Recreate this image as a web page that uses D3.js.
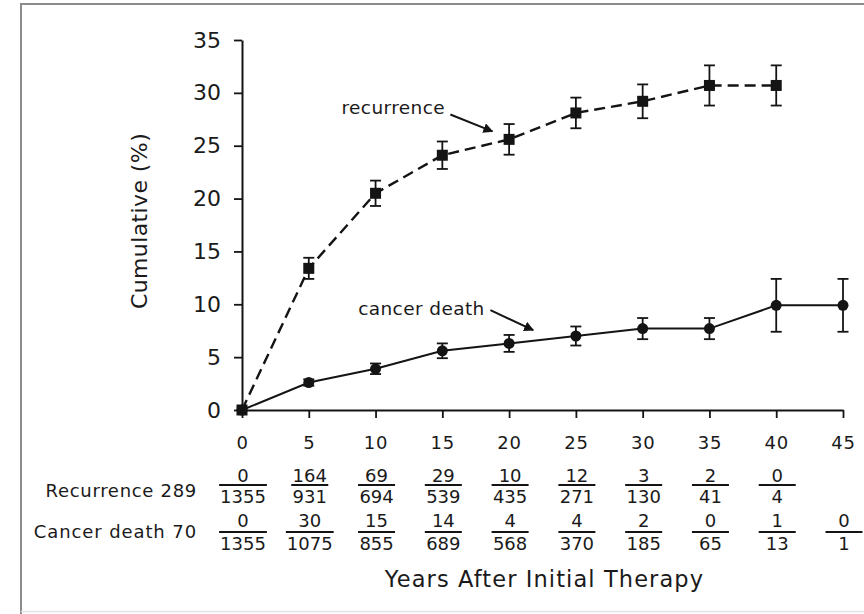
<!DOCTYPE html>
<html>
<head>
<meta charset="utf-8">
<script src="https://cdn.jsdelivr.net/npm/d3@7"></script>
<style>
  html, body { margin: 0; padding: 0; background: #fff; }
  svg { display: block; }
  text { font-family: "DejaVu Sans", sans-serif; fill: #1a1a1a; }
</style>
</head>
<body>
<script>
// Follow-up years
const years = [0, 5, 10, 15, 20, 25, 30, 35, 40, 45];

// Cumulative recurrence (%) with standard error, years 0–40
const recurrence    = [0, 13.4, 20.5, 24.1, 25.6, 28.1, 29.2, 30.7, 30.7];
const recurrenceErr = [0, 1.0, 1.2, 1.3, 1.45, 1.45, 1.6, 1.9, 1.9];

// Cumulative cancer death (%) with standard error, years 0–45
const cancerDeath    = [0, 2.6, 3.9, 5.6, 6.3, 7.0, 7.7, 7.7, 9.9, 9.9];
const cancerDeathErr = [0, 0.3, 0.5, 0.7, 0.8, 0.9, 1.0, 1.0, 2.5, 2.5];

// Events / patients at risk per interval
const recEvents   = [0, 164, 69, 29, 10, 12, 3, 2, 0];
const recAtRisk   = [1355, 931, 694, 539, 435, 271, 130, 41, 4];
const deathEvents = [0, 30, 15, 14, 4, 4, 2, 0, 1, 0];
const deathAtRisk = [1355, 1075, 855, 689, 568, 370, 185, 65, 13, 1];

// Axis ticks
const xTicks = [0, 5, 10, 15, 20, 25, 30, 35, 40, 45];
const yTicks = [0, 5, 10, 15, 20, 25, 30, 35];

const W = 864, H = 614;
const ink = "#141414";

const svg = d3.select("body").append("svg")
  .attr("width", W).attr("height", H);

svg.append("rect").attr("width", W).attr("height", H).attr("fill", "#fff");

// Outer frame (top and left edges)
svg.append("path")
  .attr("d", "M21,614 V4 H864")
  .attr("fill", "none").attr("stroke", "#8c8c8c").attr("stroke-width", 2);
svg.append("path")
  .attr("d", "M21,611.5 H864")
  .attr("fill", "none").attr("stroke", "#e4e4e4").attr("stroke-width", 1.5);

const x = d3.scaleLinear().domain([0, 45]).range([242, 843]);
const y = d3.scaleLinear().domain([0, 35]).range([410, 40]);

// Axes
const yAxis = svg.append("g")
  .attr("transform", `translate(${x(0)},0)`)
  .call(d3.axisLeft(y).tickValues(yTicks).tickSize(8).tickSizeOuter(0).tickPadding(13));
yAxis.selectAll("text").attr("font-size", 22).attr("font-family", "DejaVu Sans").attr("fill", "#1a1a1a");

const xAxis = svg.append("g")
  .attr("transform", `translate(0,${y(0)})`)
  .call(d3.axisBottom(x).tickValues(xTicks).tickSize(8).tickSizeOuter(0).tickPadding(18));
xAxis.selectAll("text").attr("font-size", 18).attr("font-family", "DejaVu Sans")
  .attr("letter-spacing", 0.8).attr("fill", "#1a1a1a");

[yAxis, xAxis].forEach(g => {
  g.select(".domain").attr("stroke", ink).attr("stroke-width", 2);
  g.selectAll(".tick line").attr("stroke", ink).attr("stroke-width", 1.8);
});

// Axis titles
svg.append("text")
  .attr("transform", `translate(147,221) rotate(-90)`)
  .attr("text-anchor", "middle")
  .attr("font-size", 22)
  .attr("letter-spacing", 0.4)
  .text("Cumulative (%)");

svg.append("text")
  .attr("x", (x(0) + x(45)) / 2 + 2)
  .attr("y", 587)
  .attr("text-anchor", "middle")
  .attr("font-size", 22.5)
  .attr("letter-spacing", 1.1)
  .text("Years After Initial Therapy");

// Series data
const recData = recurrence.map((v, i) => ({ t: years[i], v, e: recurrenceErr[i] }));
const deathData = cancerDeath.map((v, i) => ({ t: years[i], v, e: cancerDeathErr[i] }));

const line = d3.line().x(d => x(d.t)).y(d => y(d.v));

function errorBars(data) {
  const g = svg.append("g").attr("stroke", ink).attr("stroke-width", 1.8);
  data.filter(d => d.e > 0).forEach(d => {
    const cx = x(d.t);
    g.append("line").attr("x1", cx).attr("x2", cx).attr("y1", y(d.v + d.e)).attr("y2", y(d.v - d.e));
    g.append("line").attr("x1", cx - 5.5).attr("x2", cx + 5.5).attr("y1", y(d.v + d.e)).attr("y2", y(d.v + d.e));
    g.append("line").attr("x1", cx - 5.5).attr("x2", cx + 5.5).attr("y1", y(d.v - d.e)).attr("y2", y(d.v - d.e));
  });
}

// Recurrence: dashed line, square markers
svg.append("path").datum(recData)
  .attr("d", line).attr("fill", "none")
  .attr("stroke", ink).attr("stroke-width", 2.4)
  .attr("stroke-dasharray", "11,6");
errorBars(recData);
svg.append("g").selectAll("rect").data(recData).join("rect")
  .attr("x", d => x(d.t) - 5.5).attr("y", d => y(d.v) - 5.5)
  .attr("width", 11).attr("height", 11).attr("fill", ink);

// Cancer death: solid line, round markers
svg.append("path").datum(deathData)
  .attr("d", line).attr("fill", "none")
  .attr("stroke", ink).attr("stroke-width", 2);
errorBars(deathData);
svg.append("g").selectAll("circle").data(deathData).join("circle")
  .attr("cx", d => x(d.t)).attr("cy", d => y(d.v)).attr("r", 5.5).attr("fill", ink);

// Series annotations with arrows
svg.append("defs").append("marker")
  .attr("id", "head").attr("viewBox", "0 0 10 10")
  .attr("refX", 9).attr("refY", 5)
  .attr("markerWidth", 5).attr("markerHeight", 5)
  .attr("orient", "auto")
  .append("path").attr("d", "M0,0 L10,5 L0,10 z").attr("fill", ink);

const notes = [
  { label: "recurrence",   tx: 7.45, ty: 28.0, from: [15.6, 27.95], to: [18.75, 26.35] },
  { label: "cancer death", tx: 8.7,  ty: 8.95, from: [18.6, 9.45],  to: [21.8, 7.55] }
];
notes.forEach(n => {
  svg.append("text")
    .attr("x", x(n.tx)).attr("y", y(n.ty))
    .attr("font-size", 18.5).attr("letter-spacing", 0.4)
    .text(n.label);
  svg.append("line")
    .attr("x1", x(n.from[0])).attr("y1", y(n.from[1]))
    .attr("x2", x(n.to[0])).attr("y2", y(n.to[1]))
    .attr("stroke", ink).attr("stroke-width", 2)
    .attr("marker-end", "url(#head)");
});

// Life-table rows: events over patients at risk
function tableRow(label, events, atRisk, numY, barY, denY, labelY, spacing) {
  svg.append("text")
    .attr("x", 197).attr("y", labelY)
    .attr("text-anchor", "end").attr("font-size", 18)
    .attr("letter-spacing", spacing)
    .text(label);
  events.forEach((ev, i) => {
    const cx = x(years[i]) + 1;
    svg.append("text").attr("x", cx).attr("y", numY)
      .attr("text-anchor", "middle").attr("font-size", 18).text(ev);
    const den = svg.append("text").attr("x", cx).attr("y", denY)
      .attr("text-anchor", "middle").attr("font-size", 18).text(atRisk[i]);
    const w = Math.max(den.node().getComputedTextLength() + 2, 37);
    svg.append("line")
      .attr("x1", cx - w / 2).attr("x2", cx + w / 2)
      .attr("y1", barY).attr("y2", barY)
      .attr("stroke", ink).attr("stroke-width", 2);
  });
}
tableRow("Recurrence 289", recEvents, recAtRisk, 482, 485, 503, 497, 0.7);
tableRow("Cancer death 70", deathEvents, deathAtRisk, 527, 532, 550, 538, 0.9);
</script>
</body>
</html>
